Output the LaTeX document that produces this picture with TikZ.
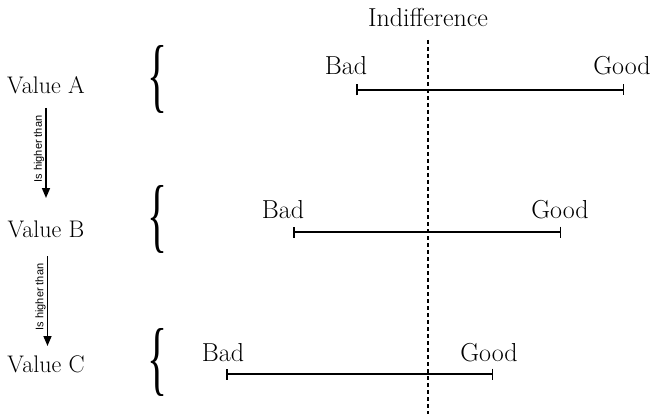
\documentclass[tikz,border=0pt]{standalone}
\usepackage{fontspec}
\setsansfont{Liberation Sans}
\newfontfamily\bracefont{Liberation Serif}
\usetikzlibrary{arrows.meta}
\begin{document}
\begin{tikzpicture}[x=1pt,y=-1pt,
  lbl/.style={font=\fontsize{26}{26}\selectfont, inner sep=0pt, anchor=base},
  val/.style={font=\fontsize{24}{24}\selectfont, inner sep=0pt, anchor=base},
  rel/.style={font=\sffamily\fontsize{11}{11}\selectfont, inner sep=0pt, rotate=90},
  bar/.style={line width=1.5pt, {Bar[width=11pt,line width=1.5pt]}-{Bar[width=11pt,line width=1.5pt]}},
  down/.style={line width=1.5pt, -{Triangle[width=8pt,length=10pt]}},
  brace/.style={inner sep=0pt}]
\useasboundingbox (0,0) rectangle (655,414);
% indifference
\node[lbl] (ind) at (428,27) {Indifference};
\coordinate (dtop) at (428,40);
\coordinate (dbot) at (428,414);
\draw[line width=1.5pt, dash pattern=on 4pt off 3pt] (dtop) -- (dbot);
% values
\node[val] (va) at (46,94) {Value A};
\node[val] (vb) at (46,237) {Value B};
\node[val] (vc) at (46,372) {Value C};
% braces
\node[brace] (ba) at (157,79) {\resizebox*{20pt}{68pt}{\bracefont\{}};
\node[brace] (bb) at (157,219) {\resizebox*{20pt}{68pt}{\bracefont\{}};
\node[brace] (bc) at (157,362) {\resizebox*{20pt}{68pt}{\bracefont\{}};
% arrows
\coordinate (a1s) at (46,108);
\coordinate (a1e) at (46,198);
\draw[down] (a1s) -- (a1e);
\node[rel] (l1) at (39,149) {Is higher than};
\coordinate (a2s) at (47.5,256);
\coordinate (a2e) at (47.5,346);
\draw[down] (a2s) -- (a2e);
\node[rel] (l2) at (40.5,297) {Is higher than};
% row A
\coordinate (la) at (356,90);
\coordinate (ra) at (624,90);
\draw[bar] (la) -- (ra);
\node[lbl] (bada) at (346,75) {Bad};
\node[lbl] (gooda) at (622,75) {Good};
% row B
\coordinate (lb) at (293,232);
\coordinate (rb) at (561,232);
\draw[bar] (lb) -- (rb);
\node[lbl] (badb) at (283,218) {Bad};
\node[lbl] (goodb) at (560,218) {Good};
% row C
\coordinate (lc) at (226,374);
\coordinate (rc) at (493,374);
\draw[bar] (lc) -- (rc);
\node[lbl] (badc) at (223,361) {Bad};
\node[lbl] (goodc) at (489,361) {Good};
\end{tikzpicture}
\end{document}
